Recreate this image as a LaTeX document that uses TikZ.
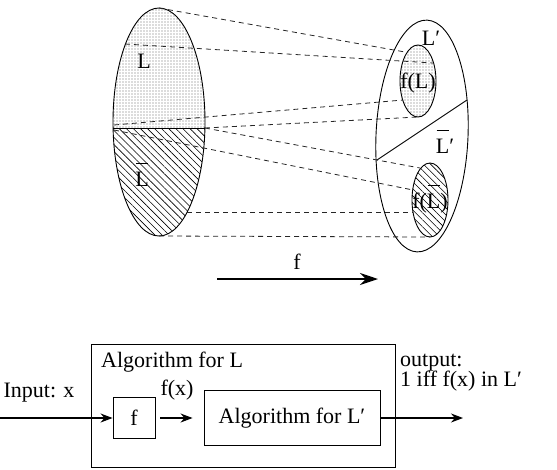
\documentclass[tikz,border=0pt]{standalone}
\usepackage{fontspec}
\setmainfont{Liberation Serif}
\usetikzlibrary{positioning,arrows.meta,patterns.meta}

\newcommand{\barL}{\makebox[0pt][l]{\hspace{0.03em}\rule[1.0em]{0.56em}{0.9pt}}L}

\begin{document}
\begin{tikzpicture}[
    x=1pt, y=-1pt,
    >={Stealth[length=12pt, width=9pt]},
    font=\fontsize{22}{18}\selectfont,
    lbl/.style={inner sep=0pt, anchor=base},
    setline/.style={line width=0.9pt},
    mapline/.style={dash pattern=on 5pt off 4pt, line width=0.8pt, black!85},
    dotfill/.style={pattern={Dots[distance=3pt, radius=0.6pt]}, pattern color=black!60},
    hatchfill/.style={pattern={Lines[angle=-45, distance=5pt, line width=0.6pt]}, pattern color=black},
    blk/.style={draw, line width=0.9pt, inner sep=0pt},
    flow/.style={->, line width=1.1pt}
]

\useasboundingbox (0,0) rectangle (557,469);

% --- Left set: L over Lbar ---
\begin{scope}
    \clip (159,122) ellipse [x radius=46, y radius=114];
    \path[dotfill] (110,0) rectangle (210,128);
    \path[hatchfill] (110,128) rectangle (210,240);
\end{scope}
\draw[setline] (159,122) ellipse [x radius=46, y radius=114];
\draw[setline] (113,128) -- (205,128);

% --- Right set: L' over Lbar' ---
\path[dotfill] (418,81) ellipse [x radius=18, y radius=36];
\path[hatchfill] (430,200) ellipse [x radius=18, y radius=37];
\draw[setline] (418,81) ellipse [x radius=18, y radius=36];
\draw[setline] (430,200) ellipse [x radius=18, y radius=37];
\draw[setline, rotate around={-2.5:(422,136)}] (422,136) ellipse [x radius=46, y radius=116];
\draw[setline] (377,160) -- (467,100);

% --- Mapping lines ---
\draw[mapline] (159,8)   -- (405,52);
\draw[mapline] (125,44)  -- (433,63);
\draw[mapline] (114,125) -- (403,100);
\draw[mapline] (205,128) -- (418,117);
\draw[mapline] (205,128) -- (420,168);
\draw[mapline] (114,130) -- (413,190);
\draw[mapline] (187,212) -- (413,212);
\draw[mapline] (159,236) -- (430,237);

% --- Set labels ---
\node[lbl] (lL)    at (144,68)  {L};
\node[lbl] (lLbar) at (142,186) {\barL};
\node[lbl] (lLp)   at (431,45)  {L′};
\node[lbl] (lfL)   at (418,88)  {f(L)};
\node[lbl] (lLbp)  at (445,153) {\barL′};
\node[lbl] (lfLb)  at (430,208) {f(\barL)};

% --- Reduction arrow ---
\coordinate (fstart) at (217,279);
\coordinate (fend)   at (378,279);
\draw[line width=2pt, -{Stealth[length=18pt, width=12pt]}] (fstart) -- (fend);
\node[lbl] (flbl) at (297,269) {f};

% --- Algorithm for L ---
\node[blk, minimum width=304pt, minimum height=123pt] (algL) at (243,405.5) {};
\node[lbl, anchor=base west] (algLlbl) at (101,367) {Algorithm for L};

\node[blk, minimum width=42pt, minimum height=41pt] (fbox) at (134,418) {f};
\node[blk, minimum width=176pt, minimum height=55pt] (algLp) at (292,418) {Algorithm for L′};

\coordinate (in)  at (0,418);
\coordinate (out) at (463,418);

\draw[flow] (in) -- (fbox);
\draw[flow, shorten <=5pt, shorten >=11pt] (fbox) -- (algLp);
\draw[flow] (algLp) -- (out);

\node[lbl] (inlbl) at (39,397) {Input: x};
\node[lbl] (fxlbl) at (177,395) {f(x)};
\node[lbl, anchor=base west] (outlbl)  at (400,366) {output:};
\node[lbl, anchor=base west] (outlbl2) at (400,386) {1 iff f(x) in L′};

\end{tikzpicture}
\end{document}
